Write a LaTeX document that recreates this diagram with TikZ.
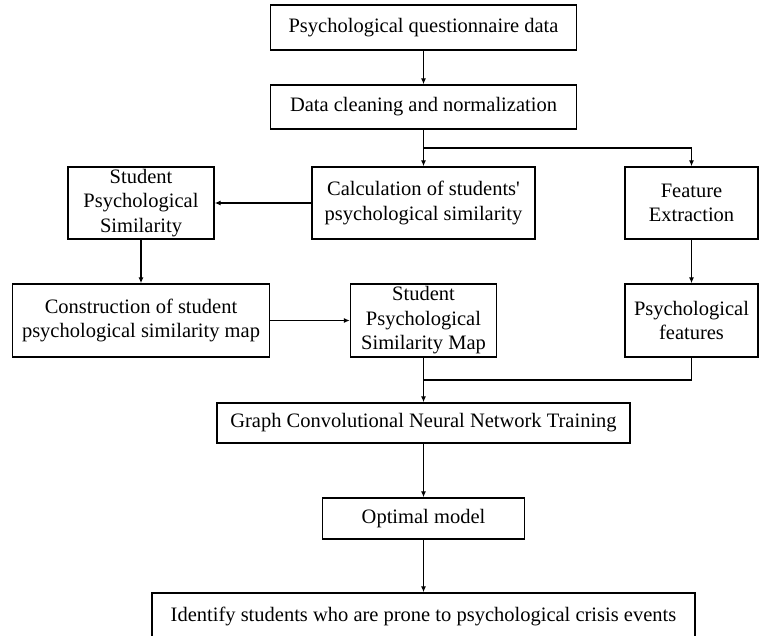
\documentclass[tikz,border=0pt]{standalone}
\usepackage{fontspec}
\setmainfont{Liberation Serif}
\usepackage{tikz}
\usetikzlibrary{arrows.meta}

\begin{document}
\begin{tikzpicture}[x=1pt,y=-1pt,
		box/.style={draw,line width=1.4pt,inner sep=0pt,align=center,
			font=\fontsize{20.5}{24.5}\selectfont},
		link/.style={draw,line width=1.4pt},
		arr/.style={link,-{Latex[length=6pt,width=5pt]}}]
		\useasboundingbox (0,0) rectangle (760,636);
		\node[box,minimum width=306pt,minimum height=45pt] (quest) at (423.5,27.5) {Psychological questionnaire data};
		\node[box,minimum width=306pt,minimum height=44pt] (clean) at (423.5,107) {Data cleaning and normalization};
		\node[box,minimum width=223pt,minimum height=72pt] (calc) at (423.5,203) {Calculation of students\textquotesingle\\psychological similarity};
		\node[box,minimum width=146pt,minimum height=72pt] (sps) at (141,203) {Student\\Psychological\\Similarity};
		\node[box,minimum width=133pt,minimum height=72pt] (feat) at (691.5,203) {Feature\\Extraction};
		\node[box,minimum width=257pt,minimum height=73pt] (constr) at (141,320.5) {Construction of student\\psychological similarity map};
		\node[box,minimum width=146pt,minimum height=73pt] (map) at (423.5,320.5) {Student\\Psychological\\Similarity Map};
		\node[box,minimum width=133pt,minimum height=73pt] (pfeat) at (691.5,320.5) {Psychological\\features};
		\node[box,minimum width=413pt,minimum height=40pt] (gcnn) at (423.5,423) {Graph Convolutional Neural Network Training};
		\node[box,minimum width=202pt,minimum height=41pt] (opt) at (423.5,518.5) {Optimal model};
		\node[box,minimum width=543pt,minimum height=47pt] (ident) at (423.5,616.5) {Identify students who are prone to psychological crisis events};
		\coordinate (split) at (423.5,148);
		\coordinate (merge) at (423.5,380);
		\draw[arr] (quest) -- (clean);
		\draw[link] (clean) -- (split);
		\draw[arr] (split) -- (calc);
		\draw[arr] (split) -| (feat);
		\draw[arr] (calc) -- (sps);
		\draw[arr] (sps) -- (constr);
		\draw[arr] (constr) -- (map);
		\draw[arr] (feat) -- (pfeat);
		\draw[link] (map) -- (merge);
		\draw[link] (pfeat) |- (merge);
		\draw[arr] (merge) -- (gcnn);
		\draw[arr] (gcnn) -- (opt);
		\draw[arr] (opt) -- (ident);
	\end{tikzpicture}
\end{document}
